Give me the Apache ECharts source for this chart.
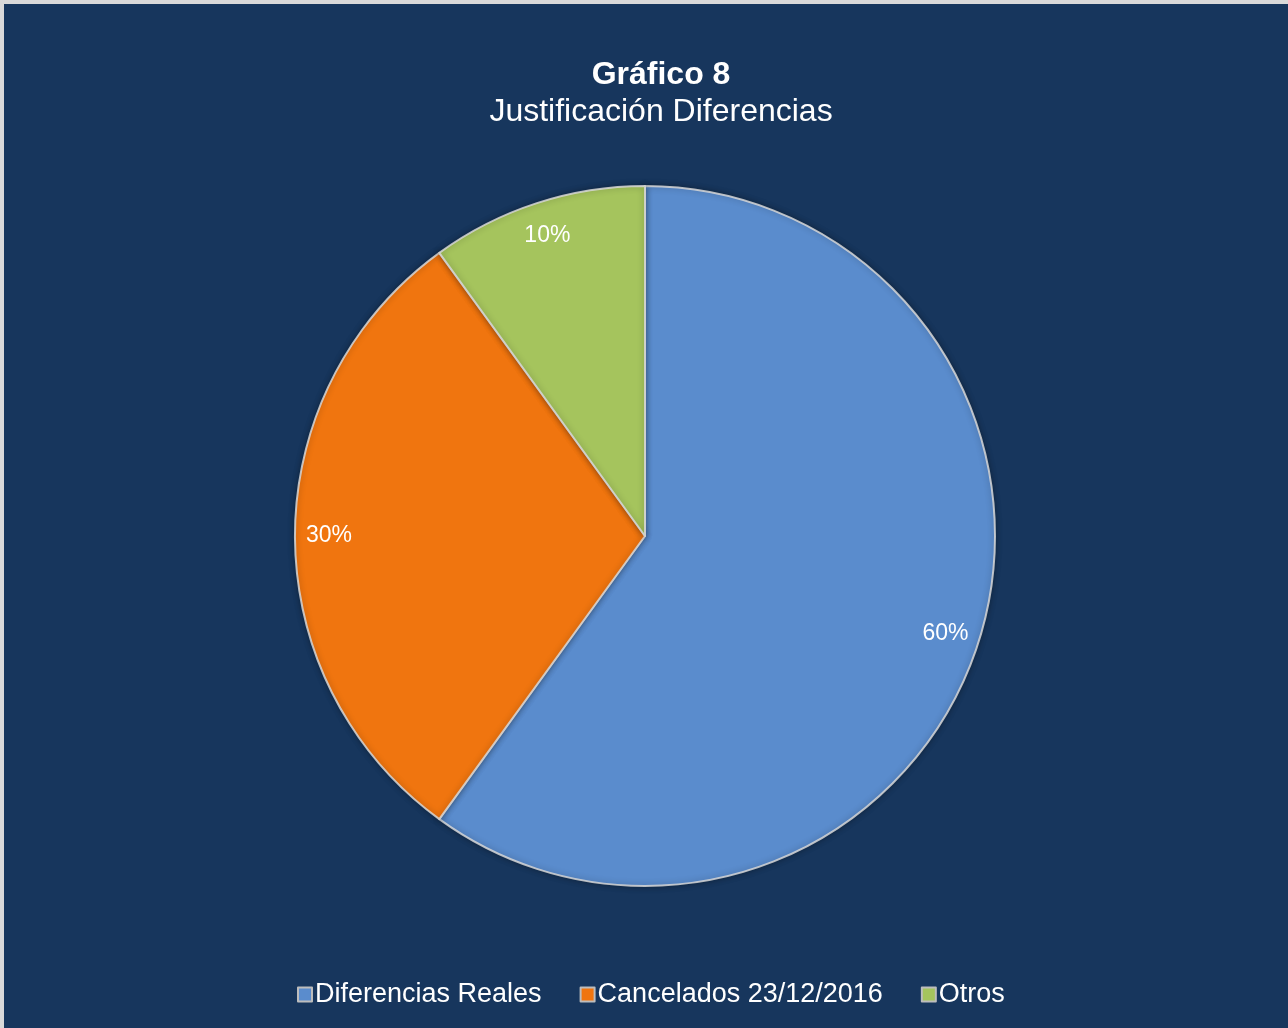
<!DOCTYPE html>
<html>
<head>
<meta charset="utf-8">
<script src="https://cdn.jsdelivr.net/npm/echarts@6/dist/echarts.min.js"></script>
<style>
  html, body { margin: 0; padding: 0; background: #d9d9d9; }
  #chart { position: absolute; left: 4px; top: 4px; width: 1284px; height: 1024px; }
</style>
</head>
<body>
<div id="chart"></div>
<script>
// Chart data
const categories = ['Diferencias Reales', 'Cancelados 23/12/2016', 'Otros'];
const shares = [60, 30, 10];
const sliceColors = ['#5a8ccd', '#f0750f', '#a5c45d'];

const FONT = '"Liberation Sans", Arial, sans-serif';
const center = [641, 532];

const pieData = categories.map((name, i) => ({
  name: name,
  value: shares[i],
  itemStyle: { color: sliceColors[i] }
}));

const chart = echarts.init(document.getElementById('chart'));
chart.setOption({
  backgroundColor: '#17365d',
  animation: false,
  title: {
    text: 'Gráfico 8',
    subtext: 'Justificación Diferencias',
    left: 652,
    textAlign: 'center',
    top: 50,
    itemGap: 5,
    textStyle: { color: '#ffffff', fontFamily: FONT, fontSize: 32, fontWeight: 'bold' },
    subtextStyle: { color: '#ffffff', fontFamily: FONT, fontSize: 32 }
  },
  legend: {
    data: categories,
    left: 288,
    top: 972,
    icon: 'rect',
    itemWidth: 14,
    itemHeight: 14,
    itemGap: 38,
    textStyle: { color: '#ffffff', fontFamily: FONT, fontSize: 27, padding: [0, 0, 0, -2] },
    itemStyle: { borderColor: '#bdbdbd', borderWidth: 2 }
  },
  series: [
    {
      type: 'pie',
      center: center,
      radius: [0, 350],
      startAngle: 90,
      clockwise: true,
      silent: true,
      label: { show: false },
      labelLine: { show: false },
      itemStyle: {
        borderColor: 'rgba(215,215,215,0.85)',
        borderWidth: 2,
        shadowColor: 'rgba(0,0,0,0.35)',
        shadowBlur: 6
      },
      data: pieData
    },
    {
      // label ring: places percentage labels near the outer rim
      type: 'pie',
      center: center,
      radius: [276, 350],
      startAngle: 90,
      clockwise: true,
      silent: true,
      legendHoverLink: false,
      itemStyle: { color: 'rgba(0,0,0,0)', borderWidth: 0 },
      label: {
        show: true,
        position: 'inside',
        formatter: (p) => p.value + '%',
        color: '#ffffff',
        fontFamily: FONT,
        fontSize: 23
      },
      labelLine: { show: false },
      data: categories.map((name, i) => ({ name: name, value: shares[i] }))
    }
  ]
});
</script>
</body>
</html>
